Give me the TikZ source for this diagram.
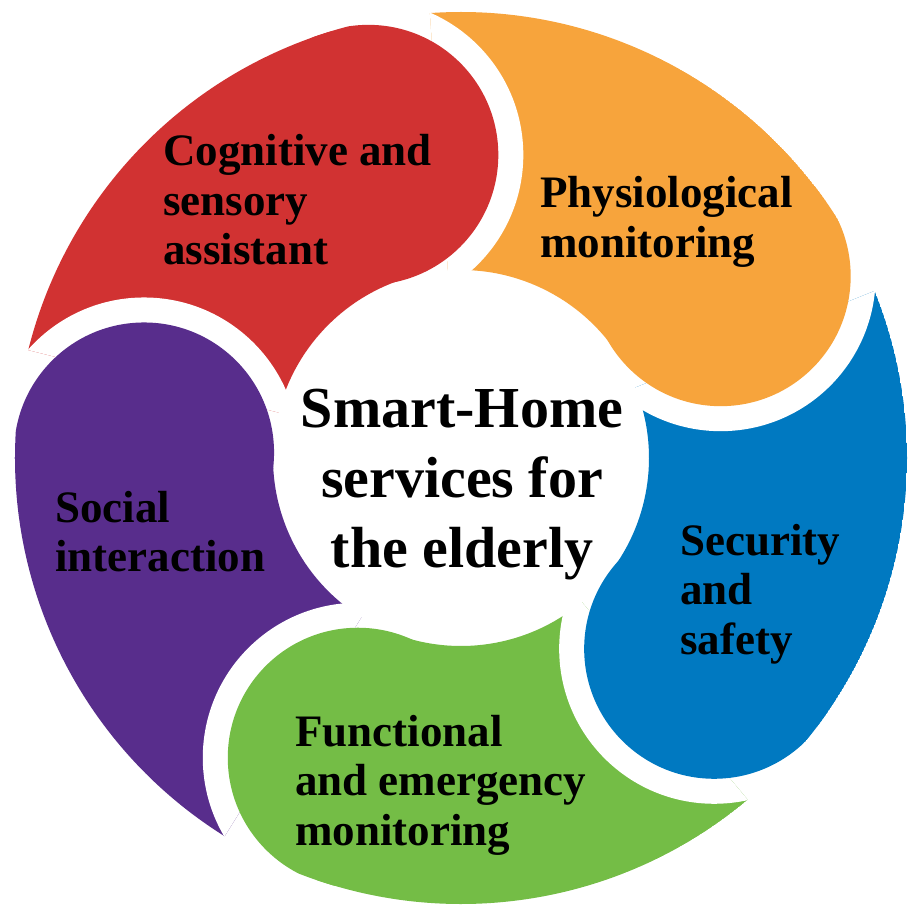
\documentclass[tikz,border=0pt]{standalone}
\usepackage{fontspec}
\setmainfont{Liberation Serif}

\definecolor{petalred}{RGB}{209,50,50}
\definecolor{petalorange}{RGB}{247,164,60}
\definecolor{petalblue}{RGB}{0,121,193}
\definecolor{petalgreen}{RGB}{116,189,70}
\definecolor{petalpurple}{RGB}{88,45,140}

\tikzset{
  petaltext/.style={font=\fontsize{45}{49.5}\selectfont\bfseries, align=left, anchor=base west, inner sep=0pt},
  hubtext/.style={font=\fontsize{58}{70}\selectfont\bfseries, align=center, anchor=base, inner sep=0pt}
}

\begin{document}
\begin{tikzpicture}[x=1pt,y=1pt]
  %\draw [help lines, step=50] (-450,-450) grid (450,450);
  \path[fill=white] (-461,-447) rectangle (451,458);

  \begin{scope}
    \clip (0,0) circle (446);
    % bands: from the head of each petal round to its tail
    \foreach \ang/\col in {107/petalred, 35/petalorange, -37/petalblue, -109/petalgreen, 179/petalpurple}
      \fill[\col] (\ang:188) arc[start angle=\ang, end angle=\ang+59, radius=188]
        -- (\ang+59:446) arc[start angle=\ang+59, end angle=\ang, radius=446] -- cycle;
    % heads, with a white gap cut into the tail before them
    \foreach \ang/\col in {107/petalred, 35/petalorange, -37/petalblue, -109/petalgreen, 179/petalpurple} {
      \begin{scope}
        \clip (0,0) -- (\ang-72:500) arc[start angle=\ang-72, end angle=\ang-13, radius=500] -- cycle;
        \fill[white] (\ang:317) circle (155);
      \end{scope}
      \fill[\col] (\ang:317) circle (130);
    }
  \end{scope}

  % nodes sit on the baseline of their last line
  \node[hubtext] (hub) at (1,-109) {Smart-Home\\services for\\the elderly};
  \node[petaltext] (cognitive) at (-298,193) {Cognitive and\\sensory\\assistant};
  \node[petaltext] (physio) at (79,200.5) {Physiological\\monitoring};
  \node[petaltext] (security) at (219,-196) {Security\\and\\safety};
  \node[petaltext] (functional) at (-166,-387) {Functional\\and emergency\\monitoring};
  \node[petaltext] (social) at (-406,-113.5) {Social\\interaction};
\end{tikzpicture}
\end{document}
